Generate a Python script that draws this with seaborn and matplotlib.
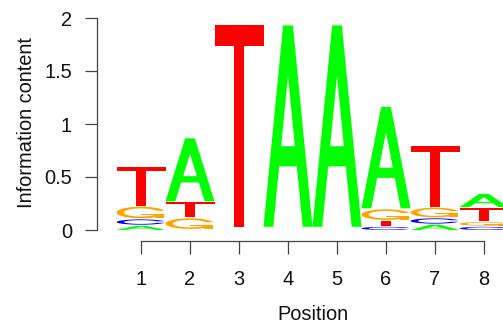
import numpy as np
import pandas as pd
import matplotlib
matplotlib.use("Agg")
import matplotlib.pyplot as plt
import seaborn as sns
from matplotlib.patches import Polygon

# ---- data (information content per letter) ----
positions = [1, 2, 3, 4, 5, 6, 7, 8]
ic_A = [0.040, 0.595, 0.000, 1.900, 1.900, 0.955, 0.050, 0.125]
ic_C = [0.050, 0.000, 0.000, 0.000, 0.000, 0.030, 0.050, 0.030]
ic_G = [0.110, 0.100, 0.000, 0.000, 0.000, 0.100, 0.090, 0.035]
ic_T = [0.360, 0.140, 1.900, 0.000, 0.000, 0.045, 0.570, 0.120]
letters = ["A", "C", "G", "T"]
letter_colors = {"A": "#00FF00", "C": "#0000FF", "G": "#FFA500", "T": "#FF0000"}
y_ticks = [0, 0.5, 1, 1.5, 2]
y_tick_labels = ["0", "0.5", "1", "1.5", "2"]
x_label = "Position"
y_label = "Information content"

df = pd.DataFrame({"position": positions, "A": ic_A, "C": ic_C, "G": ic_G, "T": ic_T})

STACK_GAP = 0.01  # seqLogo leaves a small gap after every letter slot


# ---- letter shapes in the unit square (seqLogo style) ----
def shape_T():
    x = np.array([0, 10, 10, 6, 6, 4, 4, 0]) / 10
    y = np.array([10, 10, 9, 9, 0, 0, 9, 9]) / 10
    return [(x, y, None)]


def shape_A():
    xo = np.array([0, 4, 6, 10, 8, 6.8, 3.2, 2, 0]) / 10
    yo = np.array([0, 10, 10, 0, 0, 3, 3, 0, 0]) / 10
    xi = np.array([3.6, 5, 6.4, 3.6]) / 10
    yi = np.array([4, 7.5, 4, 4]) / 10
    return [(xo, yo, None), (xi, yi, "white")]


def c_ring():
    a1 = np.linspace(0.3 + np.pi / 2, np.pi, 100)
    a2 = np.linspace(np.pi, 1.5 * np.pi, 100)
    xl1, yl1 = 0.5 + 0.5 * np.sin(a1), 0.5 + 0.5 * np.cos(a1)
    xl2, yl2 = 0.5 + 0.5 * np.sin(a2), 0.5 + 0.5 * np.cos(a2)
    xl = np.concatenate([xl1, xl2]); yl = np.concatenate([yl1, yl2])
    x = np.concatenate([xl, xl[::-1]]); y = np.concatenate([yl, 1 - yl[::-1]])
    xi1, yi1 = 0.5 + 0.35 * np.sin(a1), 0.5 + 0.35 * np.cos(a1)
    keep = yi1 <= yl1.max()
    xi1, yi1 = xi1[keep], yi1[keep].copy()
    yi1[0] = yl1.max()
    xi2, yi2 = 0.5 + 0.35 * np.sin(a2), 0.5 + 0.35 * np.cos(a2)
    xi = np.concatenate([xi1, xi2]); yi = np.concatenate([yi1, yi2])
    x1 = np.concatenate([xi, xi[::-1]]); y1 = np.concatenate([yi, 1 - yi[::-1]])
    x = np.concatenate([x, x1[::-1]]); y = np.concatenate([y, y1[::-1]])
    return x, y, xl1.max()


def shape_C():
    x, y, _ = c_ring()
    return [(x, y, None)]


def shape_G():
    x, y, r1 = c_ring()
    h1 = 0.4
    xa = np.array([r1, 0.5, 0.5, r1 - 0.2, r1 - 0.2, r1, r1])
    ya = np.array([h1, h1, h1 - 0.1, h1 - 0.1, 0, 0, h1])
    return [(x, y, None), (xa, ya, None)]


shapes = {"A": shape_A, "C": shape_C, "G": shape_G, "T": shape_T}

# ---- figure ----
sns.set_style("ticks")
plt.rcParams["font.family"] = ["Liberation Sans", "DejaVu Sans"]

W, H = 503, 324
fig = plt.figure(figsize=(W / 100, H / 100), dpi=100)
ax_left, ax_right, ax_top, ax_bot = 116.5, 508.5, 18.0, 230.0
ax = fig.add_axes([ax_left / W, 1 - ax_bot / H, (ax_right - ax_left) / W, (ax_bot - ax_top) / H])

for _, row in df.iterrows():
    pos = row["position"]
    heights = sorted([(row[l], i, l) for i, l in enumerate(letters)])
    base = 0.0
    for h, _, l in heights:
        if h > 0:
            for xs, ys, fc in shapes[l]():
                col = fc if fc else letter_colors[l]
                verts = np.column_stack([pos - 0.5 + xs, base + h * ys])
                ax.add_patch(Polygon(verts, closed=True, facecolor=col,
                                     edgecolor="none", linewidth=0))
        base += h + STACK_GAP

ax.set_xlim(0.5, 8.5)
ax.set_ylim(0, 2)
ax.set_xticks(positions)
ax.set_xticklabels([str(p) for p in positions])
ax.set_yticks(y_ticks)
ax.set_yticklabels(y_tick_labels)
ax.set_facecolor("white")

sns.despine(ax=ax, offset={"left": 14.0, "bottom": 7.7}, trim=True)
for side in ["left", "bottom"]:
    ax.spines[side].set_color("#444444")
    ax.spines[side].set_linewidth(0.9)
ax.tick_params(axis="both", colors="#444444", labelcolor="#111111",
               labelsize=14.4, width=0.9, length=9)
ax.tick_params(axis="x", pad=12)
ax.tick_params(axis="y", pad=9)

fig.text(313 / W, 1 - 319.5 / H, x_label, ha="center", va="baseline",
         fontsize=14.4, color="#111111")
fig.text(31.7 / W, 1 - 122.5 / H, y_label, ha="center", va="baseline",
         rotation=90, rotation_mode="anchor", fontsize=14.4, color="#111111")

fig.savefig("out.png", dpi=100, facecolor="white")
